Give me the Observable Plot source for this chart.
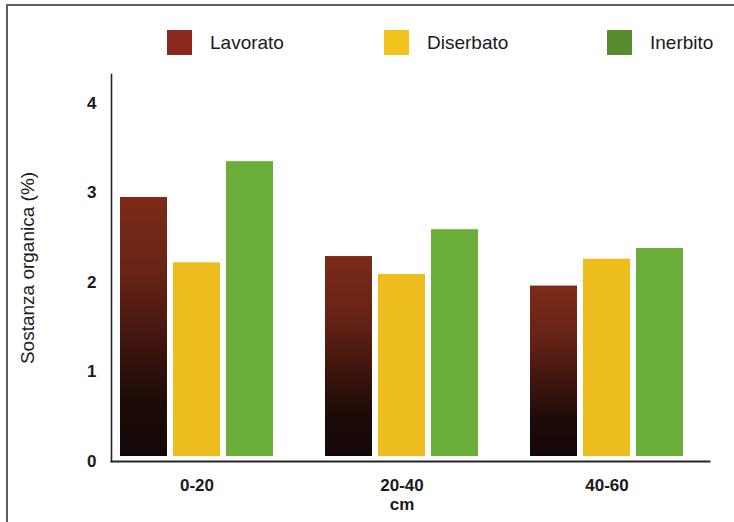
<!DOCTYPE html>
<html>
<head>
<meta charset="utf-8">
<script src="https://cdn.jsdelivr.net/npm/d3@7"></script>
<script src="https://cdn.jsdelivr.net/npm/@observablehq/plot@0.6"></script>
<style>
  body { margin: 0; background: #fff; font-family: "Liberation Sans", Arial, sans-serif; }
  #fig { position: relative; width: 734px; height: 522px; overflow: hidden; background: #fff; }
  #fig .edge-top { position: absolute; left: 6px; top: 4px; width: 728px; height: 2px; background: #5e5e5e; }
  #fig .edge-left { position: absolute; left: 6px; top: 4px; width: 2px; height: 518px; background: #5e5e5e; }
  #legend { position: relative; height: 62px; }
  .key { position: absolute; top: 30px; height: 25px; display: flex; align-items: center; font-size: 19px; color: #1a1a1a; }
  .key .sw { width: 25px; height: 25px; display: inline-block; margin-right: 18px; }
  #chart svg { display: block; }
</style>
</head>
<body>
<div id="fig">
  <div class="edge-top"></div>
  <div class="edge-left"></div>
  <div id="legend"></div>
  <div id="chart"></div>
</div>
<script>
// Soil depth classes (cm) and soil management treatments
const depths = ["0-20", "20-40", "40-60"];
const treatments = ["Lavorato", "Diserbato", "Inerbito"];

// Organic matter (%) per depth class, one array per treatment
const lavorato = [2.95, 2.29, 1.96];
const diserbato = [2.22, 2.09, 2.26];
const inerbito = [3.35, 2.59, 2.38];

const yTicks = [0, 1, 2, 3, 4];

// Bar fills (Lavorato uses a vertical gradient) and legend swatch colours
const barFills = ["url(#lavorato-fill)", "#ecbd1c", "#6aae39"];
const swatchColors = ["#8a2a1f", "#f0c41c", "#578c2f"];

const seriesValues = [lavorato, diserbato, inerbito];
const rows = [];
depths.forEach((depth, i) => {
  treatments.forEach((treatment, j) => {
    rows.push({depth, treatment, value: seriesValues[j][i]});
  });
});

// Legend row above the chart
const legend = d3.select("#legend");
const keyLeft = [167, 384, 607];
treatments.forEach((t, j) => {
  const k = legend.append("div").attr("class", "key").style("left", keyLeft[j] + "px");
  k.append("span").attr("class", "sw").style("background", swatchColors[j]);
  k.append("span").text(t);
});

const axisInk = "#262626";

const chart = Plot.plot({
  width: 734,
  height: 460,
  marginTop: 12,
  marginBottom: 61,
  marginLeft: 119,
  marginRight: 50,
  style: {fontFamily: "Liberation Sans, Arial, sans-serif", fontSize: "17px", color: "#1a1a1a", background: "transparent"},
  facet: {data: rows, x: "depth"},
  fx: {domain: depths, paddingInner: 0.244, paddingOuter: 0},
  x: {domain: treatments, paddingInner: 0.11, paddingOuter: 0, axis: null},
  y: {domain: [0, 4.324]},
  color: {domain: treatments, range: barFills},
  marks: [
    Plot.barY(rows, {x: "treatment", y: "value", fill: "treatment", insetBottom: 5}),
    Plot.axisY(yTicks, {
      tickSize: 0, tickPadding: 23, tickFormat: "d",
      fontWeight: "bold", fontSize: 17,
      label: null
    }),
    Plot.axisY({
      ticks: [], tickSize: 0,
      label: "Sostanza organica (%)", labelAnchor: "center", labelOffset: 99, labelArrow: "none",
      fontSize: 19
    }),
    Plot.axisFx({
      anchor: "bottom",
      tickSize: 0, tickPadding: 17, fontWeight: "bold", fontSize: 17,
      label: "cm", labelAnchor: "center", labelOffset: 48, labelArrow: "none"
    }),
    // Axis lines: they run a little past the outer bars, as in the printed figure
    Plot.frame({anchor: "left", facet: "super", insetLeft: -8, stroke: axisInk, strokeWidth: 1.6}),
    Plot.frame({anchor: "bottom", facet: "super", insetLeft: -8, insetRight: -25, stroke: axisInk, strokeWidth: 2})
  ]
});

// Gradient for the Lavorato bars: reddish brown at the top fading to near black
const svg = d3.select(chart);
const grad = svg.insert("defs", ":first-child")
  .append("linearGradient")
  .attr("id", "lavorato-fill")
  .attr("x1", 0).attr("y1", 0).attr("x2", 0).attr("y2", 1);
[[0, "#7d2b18"], [0.3, "#672315"], [0.55, "#40160e"], [0.78, "#1d0b08"], [1, "#140807"]]
  .forEach(([o, c]) => grad.append("stop").attr("offset", o).attr("stop-color", c));

document.getElementById("chart").appendChild(chart);
</script>
</body>
</html>
